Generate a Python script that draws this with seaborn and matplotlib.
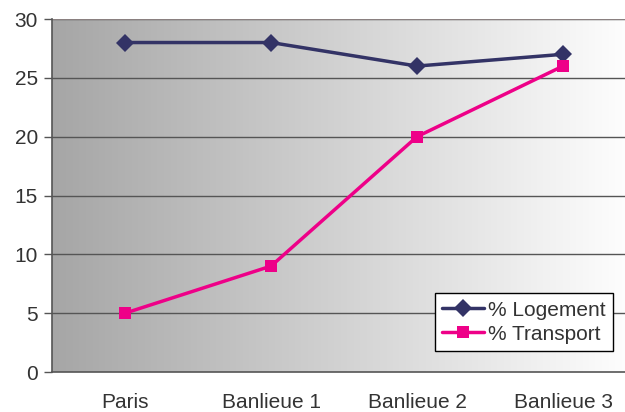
import numpy as np
import pandas as pd
import matplotlib
matplotlib.use("Agg")
import matplotlib.pyplot as plt
from matplotlib.colors import LinearSegmentedColormap
import seaborn as sns

categories = ["Paris", "Banlieue 1", "Banlieue 2", "Banlieue 3"]
logement = [28, 28, 26, 27]
transport = [5, 9, 20, 26]
series_names = ["% Logement", "% Transport"]
y_ticks = [0, 5, 10, 15, 20, 25, 30]

df = pd.DataFrame({
    "cat": list(range(len(categories))) * 2,
    "value": logement + transport,
    "series": [series_names[0]] * len(categories) + [series_names[1]] * len(categories),
})

sns.set_theme(style="white")
plt.rcParams["font.family"] = ["Liberation Sans", "DejaVu Sans"]

fig = plt.figure(figsize=(6.25, 4.12), dpi=100)
ax = fig.add_axes([52 / 625, 40 / 412, 584 / 625, 353 / 412])

# horizontal grey gradient behind the plot
grad = np.linspace(0, 1, 256).reshape(1, -1)
cmap = LinearSegmentedColormap.from_list("bg", ["#a6a6a6", "#ffffff"])
ax.imshow(grad, cmap=cmap, aspect="auto", extent=[0, 1, 0, 1],
          transform=ax.transAxes, zorder=0)

palette = {series_names[0]: "#333366", series_names[1]: "#ee0088"}
markers = {series_names[0]: "D", series_names[1]: "s"}
sns.lineplot(data=df, x="cat", y="value", hue="series", style="series",
             palette=palette, markers=markers, dashes=False, ax=ax,
             linewidth=2.5, markersize=9, markeredgewidth=0, zorder=3)

ax.set_xlim(-0.5, len(categories) - 0.5)
ax.set_ylim(0, 30)
ax.set_yticks(y_ticks)
for y in y_ticks[1:]:
    ax.axhline(y, color="#555555", linewidth=1.0, zorder=1)
ax.axhline(30, color="#8a8080", linewidth=1.5, zorder=1)

fs = 15
ax.set_xticks(range(len(categories)))
ax.set_xticklabels(categories)
ax.set_xticks(np.arange(-0.5, len(categories) - 0.5, 1.0), minor=True)
ax.tick_params(axis="x", which="major", length=0, pad=15, labelsize=fs, labelcolor="#333333")
ax.tick_params(axis="x", which="minor", length=6, width=1, color="#555555", direction="out")
ax.tick_params(axis="y", length=6, width=1, color="#555555", direction="out",
               labelsize=fs, labelcolor="#333333", pad=4, left=True)
ax.set_xlabel("")
ax.set_ylabel("")

for s in ["top", "right"]:
    ax.spines[s].set_visible(False)
for s in ["left", "bottom"]:
    ax.spines[s].set_color("#555555")
    ax.spines[s].set_linewidth(1.2)

leg = ax.legend(loc="lower right", bbox_to_anchor=((613 - 52) / 584, 21 / 353),
                frameon=True, fancybox=False, fontsize=fs, handlelength=2.0,
                handletextpad=0.2, borderpad=0.35, labelspacing=0.25,
                borderaxespad=0)
leg.get_frame().set_edgecolor("#000000")
leg.get_frame().set_linewidth(1.0)
leg.get_frame().set_facecolor("white")
leg.get_frame().set_alpha(1)
for t in leg.get_texts():
    t.set_color("#333333")

fig.savefig("out.png", dpi=100)
